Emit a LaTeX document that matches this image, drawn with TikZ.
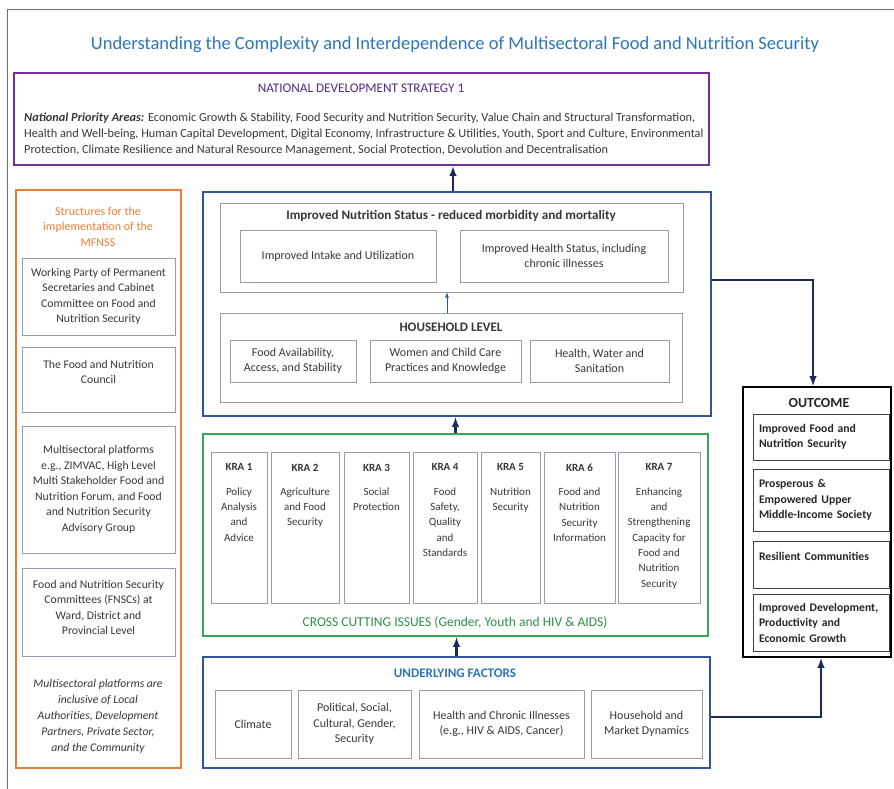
\documentclass[tikz,border=0pt]{standalone}
\usepackage{fontspec}
\setmainfont{Carlito}
\usepackage{tikz}
\tikzset{>=latex}
\usetikzlibrary{calc}

\definecolor{ndspurple}{RGB}{112,48,160}
\definecolor{titleblue}{RGB}{46,117,182}
\definecolor{boxblue}{RGB}{47,85,151}
\definecolor{arrownavy}{RGB}{28,42,88}
\definecolor{kragreen}{RGB}{52,168,83}
\definecolor{structorange}{RGB}{237,125,49}
\definecolor{innergray}{RGB}{150,155,178}
\definecolor{textgray}{RGB}{55,55,55}
\definecolor{framegray}{RGB}{110,110,110}

\begin{document}
\begin{tikzpicture}[x=1pt, y=-1pt,
    font=\fontsize{12}{15.5}\selectfont, text=textgray,
    bigbox/.style={draw, inner sep=0pt},
    thinbox/.style={draw=innergray, line width=0.7pt, inner sep=2pt, align=center},
    kratext/.style={anchor=north, inner sep=0pt, align=center, yshift=-12pt,
      font=\fontsize{11}{15.3}\selectfont},
    outbox/.style={draw=black!75, line width=0.8pt, inner sep=5pt, align=left,
      font=\fontsize{11.7}{15.5}\selectfont\bfseries, text=black!85},
    navyarrow/.style={draw=arrownavy, line width=2.3pt, ->}]
  \useasboundingbox (0,0) rectangle (894,789);
  \draw[framegray, line width=1pt] (7,789) -- (7,10) -- (894,10);

  \node[text=titleblue, font=\fontsize{18.5}{20}\selectfont] (title) at (455,45)
    {Understanding the Complexity and Interdependence of Multisectoral Food and Nutrition Security};

  % national development strategy
  \node[bigbox, draw=ndspurple, line width=2.5pt, minimum width=695, minimum height=92] (nds) at (361.5,119) {};
  \node[text=ndspurple!80!black, font=\fontsize{13.2}{15.5}\selectfont] (ndshead) at (361,88) {NATIONAL DEVELOPMENT STRATEGY 1};
  \node[anchor=north west, inner sep=0pt, align=left, font=\fontsize{12.3}{16}\selectfont] (ndsareas) at (24,113)
    {\textbf{\textit{National Priority Areas:}} Economic Growth \& Stability, Food Security and Nutrition Security, Value Chain and Structural Transformation,\\
     Health and Well-being, Human Capital Development, Digital Economy, Infrastructure \& Utilities, Youth, Sport and Culture, Environmental\\
     Protection, Climate Resilience and Natural Resource Management, Social Protection, Devolution and Decentralisation};

  % nutrition status and household level
  \node[bigbox, draw=boxblue, line width=2.5pt, minimum width=508, minimum height=224] (nutri) at (457,304) {};
  \node[thinbox, minimum width=463, minimum height=89] (status) at (451.5,247.5) {};
  \node[font=\fontsize{13.1}{15.5}\selectfont\bfseries] (statushead) at (451,216)
    {Improved Nutrition Status - reduced morbidity and mortality};
  \node[thinbox, minimum width=196, minimum height=52] (intake) at (338,256) {Improved Intake and Utilization};
  \node[thinbox, minimum width=208, minimum height=52] (health) at (564,256) {Improved Health Status, including\\chronic illnesses};
  \node[thinbox, minimum width=462, minimum height=89] (household) at (451,357.5) {};
  \node[font=\fontsize{13}{15.5}\selectfont\bfseries] (hhhead) at (451,327) {HOUSEHOLD LEVEL};
  \node[thinbox, minimum width=126, minimum height=42] (foodavail) at (293,361) {Food Availability,\\Access, and Stability};
  \node[thinbox, minimum width=151, minimum height=42] (childcare) at (445.5,361) {Women and Child Care\\Practices and Knowledge};
  \node[thinbox, minimum width=139, minimum height=42] (wash) at (599.5,361) {Health, Water and\\Sanitation};
  \draw[boxblue, line width=0.8pt, ->] (household.north -| 447,0) -- (status.south -| 447,0);

  % key result areas
  \node[bigbox, draw=kragreen, line width=2.5pt, minimum width=505, minimum height=202] (kra) at (455.5,535) {};
  \node[thinbox, minimum width=56, minimum height=151] (kra1) at (239,527.5) {};
  \node[thinbox, minimum width=68, minimum height=151] (kra2) at (305,527.5) {};
  \node[thinbox, minimum width=65, minimum height=151] (kra3) at (376.5,527.5) {};
  \node[thinbox, minimum width=64, minimum height=151] (kra4) at (445,527.5) {};
  \node[thinbox, minimum width=59, minimum height=151] (kra5) at (510.5,527.5) {};
  \node[thinbox, minimum width=71, minimum height=151] (kra6) at (579.5,527.5) {};
  \node[thinbox, minimum width=82, minimum height=151] (kra7) at (659,527.5) {};
  \node[kratext] (kra1text) at (kra1.north) {\textbf{KRA 1}\\[9pt]Policy\\Analysis\\and\\Advice};
  \node[kratext] (kra2text) at (kra2.north) {\textbf{KRA 2}\\[9pt]Agriculture\\and Food\\Security};
  \node[kratext] (kra3text) at (kra3.north) {\textbf{KRA 3}\\[9pt]Social\\Protection};
  \node[kratext] (kra4text) at (kra4.north) {\textbf{KRA 4}\\[9pt]Food\\Safety,\\Quality\\and\\Standards};
  \node[kratext] (kra5text) at (kra5.north) {\textbf{KRA 5}\\[9pt]Nutrition\\Security};
  \node[kratext] (kra6text) at (kra6.north) {\textbf{KRA 6}\\[9pt]Food and\\Nutrition\\Security\\Information};
  \node[kratext] (kra7text) at (kra7.north) {\textbf{KRA 7}\\[9pt]Enhancing\\and\\Strengthening\\Capacity for\\Food and\\Nutrition\\Security};
  \node[text=kragreen!85!black, font=\fontsize{13.5}{15.5}\selectfont] (crosscut) at (455,622)
    {CROSS CUTTING ISSUES (Gender, Youth and HIV \& AIDS)};

  % underlying factors
  \node[bigbox, draw=boxblue, line width=2.5pt, minimum width=507, minimum height=111] (under) at (456.5,712.5) {};
  \node[text=titleblue, font=\fontsize{13.1}{15.5}\selectfont\bfseries] (underhead) at (455,673) {UNDERLYING FACTORS};
  \node[thinbox, minimum width=76, minimum height=68] (climate) at (253,724) {Climate};
  \node[thinbox, minimum width=113, minimum height=68] (political) at (354.5,724) {Political, Social,\\Cultural, Gender,\\Security};
  \node[thinbox, minimum width=165, minimum height=68] (chronic) at (501.5,724) {Health and Chronic Illnesses\\(e.g., HIV \& AIDS, Cancer)};
  \node[thinbox, minimum width=111, minimum height=68] (market) at (646.5,724) {Household and\\Market Dynamics};

  % structures for implementation
  \node[bigbox, draw=structorange, line width=1.8pt, minimum width=165, minimum height=578] (struct) at (98.5,479) {};
  \node[text=structorange, align=center] (structhead) at (98,226.5) {Structures for the\\implementation of the\\MFNSS};
  \node[thinbox, minimum width=153, minimum height=77, font=\fontsize{11.7}{15.5}\selectfont] (party) at (98.5,296.5)
    {Working Party of Permanent\\Secretaries and Cabinet\\Committee on Food and\\Nutrition Security};
  \node[thinbox, minimum width=153, minimum height=65, font=\fontsize{11.7}{15.5}\selectfont] (council) at (98.5,379.5)
    {The Food and Nutrition\\Council\\\mbox{}};
  \node[thinbox, minimum width=153, minimum height=127, font=\fontsize{11.7}{15.5}\selectfont] (platforms) at (98.5,489.5)
    {Multisectoral platforms\\e.g., ZIMVAC, High Level\\Multi Stakeholder Food and\\Nutrition Forum, and Food\\and Nutrition Security\\Advisory Group};
  \node[thinbox, minimum width=153, minimum height=88, font=\fontsize{11.7}{15.5}\selectfont] (fnsc) at (98.5,612)
    {Food and Nutrition Security\\Committees (FNSCs) at\\Ward, District and\\Provincial Level\\[-6pt]\mbox{}};
  \node[align=center, font=\fontsize{11.7}{16}\selectfont\itshape] (inclusive) at (98,716)
    {Multisectoral platforms are\\inclusive of Local\\Authorities, Development\\Partners, Private Sector,\\and the Community};

  % outcome
  \node[bigbox, draw=black, line width=2.2pt, minimum width=148, minimum height=270] (outcome) at (817,522) {};
  \node[font=\fontsize{13.9}{15.5}\selectfont\bfseries, text=black!85] (outhead) at (819,403) {OUTCOME};
  \node[outbox, minimum width=136, minimum height=46, text width=124] (foodsec) at (821,437)
    {Improved Food and\\Nutrition Security};
  \node[outbox, minimum width=136, minimum height=62, text width=124] (prosper) at (821,500)
    {Prosperous \&\\Empowered Upper\\Middle-Income Society};
  \node[outbox, minimum width=136, minimum height=47, text width=124] (resilient) at (821,564.5)
    {Resilient Communities\\\mbox{}};
  \node[outbox, minimum width=136, minimum height=57, text width=124] (growth) at (821,622.5)
    {Improved Development,\\Productivity and\\Economic Growth};

  % connectors
  \draw[navyarrow] ([xshift=-4pt]nutri.north) -- ([xshift=-4pt]nutri.north |- nds.south);
  \draw[navyarrow] (kra.north) -- (kra.north |- nutri.south);
  \draw[navyarrow] (under.north) -- (under.north |- kra.south);
  \draw[navyarrow] ([yshift=24pt]nutri.east) -| ([xshift=-4pt]outcome.north);
  \draw[navyarrow] ([yshift=-4.5pt]under.east) -| ([xshift=4pt]outcome.south);
\end{tikzpicture}
\end{document}
